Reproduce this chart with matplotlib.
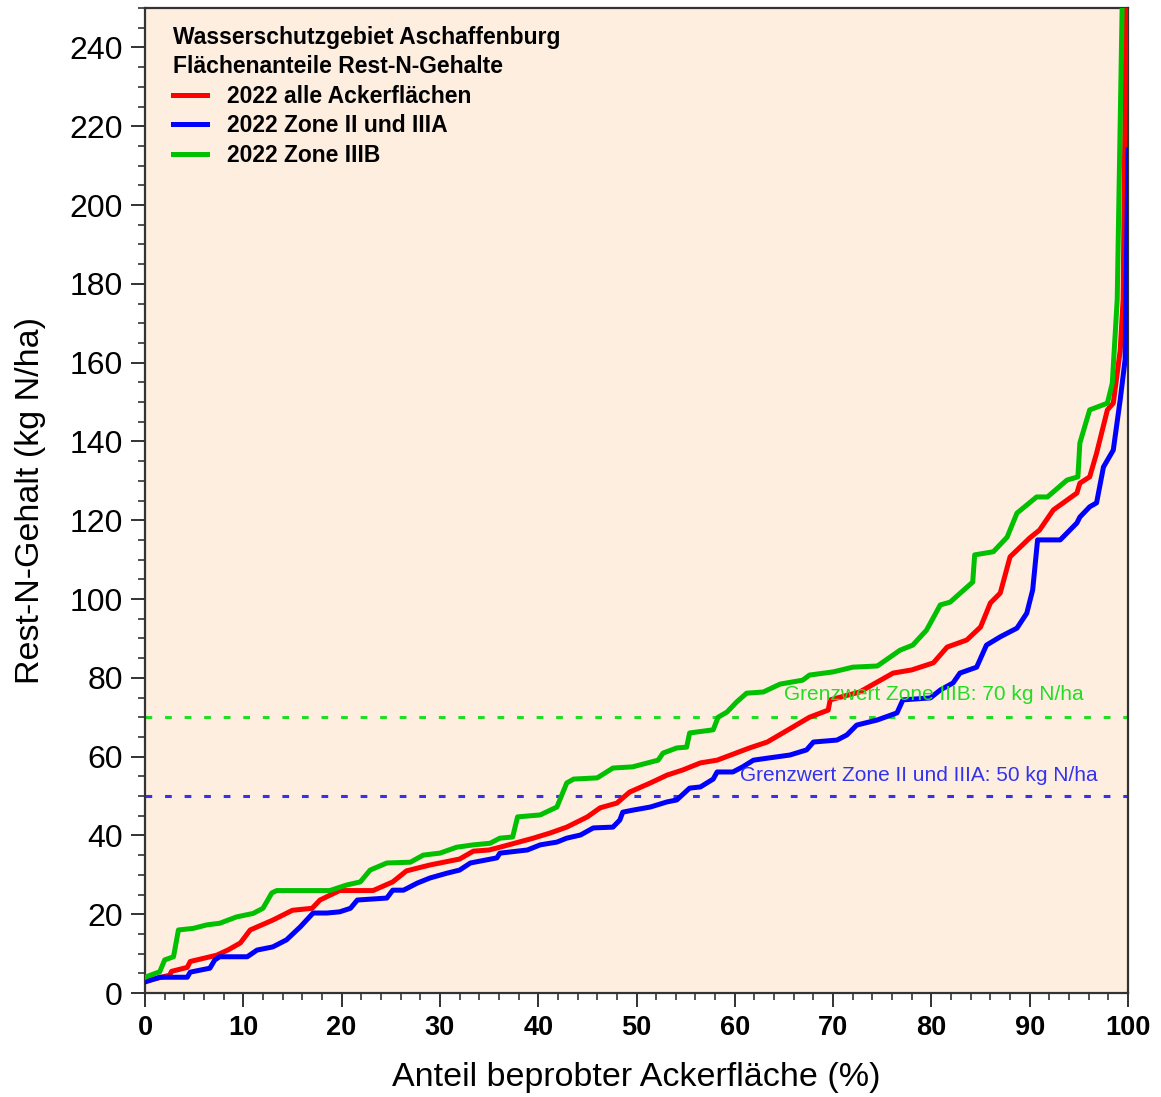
import matplotlib
matplotlib.use("Agg")
import matplotlib.pyplot as plt
from matplotlib.lines import Line2D

plt.rcParams['font.family'] = ['Liberation Sans', 'DejaVu Sans']

# Cumulative area share (%) and residual nitrogen (kg N/ha)
red_x = [0, 2.5, 2.7, 4.3, 4.6, 7.3, 8.5, 9.7, 10.7, 13, 15, 17, 17.8, 19.8, 23.2,
         25.2, 26.6, 29, 32, 33.4, 35, 36.1, 39.5, 41.2, 42.9, 45, 46.3, 48, 49.3,
         51.4, 53.1, 54.7, 56.5, 58.2, 59.8, 61.5, 63.3, 65.9, 67.6, 69.5, 69.7,
         72.7, 76.1, 78, 80.2, 81.6, 83.6, 85, 86, 87, 88, 90, 91, 92.4, 94.8,
         95.1, 96.1, 96.8, 97.9, 98.5, 99.2, 99.5, 99.8]
red_y = [3, 4.5, 5.5, 6.5, 8, 9.6, 11, 12.7, 16, 18.5, 21, 21.5, 23.6, 26, 26,
         28.2, 31, 32.5, 34, 36, 36.3, 37, 39.3, 40.6, 42.1, 44.7, 47, 48.2, 51,
         53.3, 55.3, 56.6, 58.4, 59.1, 60.6, 62.2, 63.7, 67.5, 70, 71.8, 74.4,
         76.4, 81.2, 82, 83.8, 87.8, 89.6, 92.9, 99, 101.5, 110.7, 115.5, 117.5,
         122.6, 126.9, 129.4, 131, 137, 148, 149.7, 163, 176, 250]

blue_x = [0, 1.5, 4.3, 4.6, 6.6, 7.1, 7.6, 10.4, 11.4, 13, 14.4, 15.8, 17.1, 18.5,
          19.8, 20.9, 21.6, 24.6, 25.2, 26.3, 27.7, 29, 30.7, 32, 33.1, 35.8, 36.1,
          38.9, 40.2, 41.9, 42.9, 44.3, 45.6, 47.6, 48.3, 48.6, 49.6, 51.4, 53.1,
          54.1, 55.4, 56.5, 57.8, 58.2, 59.8, 60.8, 61.9, 63.3, 65.6, 67.3, 68,
          70.4, 71.4, 72.4, 74.5, 76.5, 77.1, 79.9, 80.9, 82.2, 82.9, 84.6, 85.6,
          87, 88.7, 89.7, 90.3, 90.8, 93.1, 94.8, 95.1, 96.1, 96.8, 97.5, 98.5,
          99.2, 99.7, 100]
blue_y = [2.8, 4, 4, 5.3, 6.3, 8.4, 9.2, 9.2, 10.9, 11.7, 13.5, 16.8, 20.3, 20.3,
          20.6, 21.5, 23.6, 24.1, 26.1, 26.1, 27.9, 29.2, 30.4, 31.2, 33, 34.3,
          35.5, 36.3, 37.6, 38.3, 39.3, 40.1, 41.9, 42.1, 43.9, 45.9, 46.4, 47.2,
          48.5, 49, 52, 52.3, 54.3, 56.1, 56.1, 57.4, 59.1, 59.6, 60.4, 61.7, 63.7,
          64.2, 65.5, 68, 69.3, 71.1, 74.4, 74.9, 76.9, 78.7, 81.2, 82.7, 88.3,
          90.4, 92.6, 96.4, 102.3, 115, 115, 119.3, 120.8, 123.4, 124.4, 133.5,
          137.8, 150.5, 160.7, 214]

green_x = [0, 1.5, 2, 2.9, 3.4, 4.9, 6.3, 7.6, 9.3, 11, 12, 12.9, 13.4, 18.8, 20.5,
           21.9, 22.9, 24.6, 27, 28.3, 30, 31.7, 33.4, 35.1, 36.1, 37.4, 37.9, 40.2,
           41.9, 42.9, 43.6, 46, 47.6, 49.6, 52.2, 52.7, 54.1, 55.1, 55.4, 57.8,
           58.3, 59.2, 60.2, 61.2, 62.9, 64.6, 66.9, 67.6, 70, 72, 74.5, 76.8,
           78.1, 79.5, 80.9, 81.9, 84.2, 84.4, 86.3, 87.7, 88.7, 90.7, 91.8, 93.8,
           94.9, 95.1, 96.1, 97.9, 98.4, 98.9, 99.4]
green_y = [4, 5.4, 8.4, 9.2, 16, 16.4, 17.3, 17.7, 19.3, 20.2, 21.5, 25.4, 26, 26,
           27.4, 28.2, 31.2, 33, 33.2, 35, 35.5, 37, 37.6, 38, 39.3, 39.6, 44.7,
           45.2, 47.2, 53.3, 54.3, 54.6, 57.1, 57.4, 59.1, 60.9, 62.2, 62.4, 66,
           66.8, 70, 71.3, 73.9, 76.1, 76.4, 78.4, 79.4, 80.7, 81.5, 82.7, 83,
           87, 88.3, 92.1, 98.5, 99.2, 104.3, 111.2, 112, 115.7, 121.8, 125.9,
           125.9, 130.2, 131, 139.6, 148, 149.7, 154.8, 176, 250]

series_labels = ["2022 alle Ackerflächen", "2022 Zone II und IIIA", "2022 Zone IIIB"]
series_colors = ["#ff0000", "#0000ff", "#00c000"]

limit_values = [70, 50]
limit_labels = ["Grenzwert Zone IIIB: 70 kg N/ha", "Grenzwert Zone II und IIIA: 50 kg N/ha"]
limit_colors = ["#22dd22", "#3333ee"]

legend_title = "Wasserschutzgebiet Aschaffenburg\nFlächenanteile Rest-N-Gehalte"

fig = plt.figure(figsize=(11.61, 10.97), dpi=100)
ax = fig.add_axes([0.1249, 0.0948, 0.9716 - 0.1249, 0.9927 - 0.0948])
ax.set_facecolor("#feeee0")

# limit lines with labels
ax.axhline(limit_values[0], color=limit_colors[0], lw=2.2, ls=(0, (2.2, 4.2)), zorder=2)
ax.axhline(limit_values[1], color=limit_colors[1], lw=2.2, ls=(0, (2.2, 4.2)), zorder=2)
ax.text(65.0, limit_values[0] + 5.8, limit_labels[0], color=limit_colors[0],
        fontsize=15, ha="left", va="center", zorder=5)
ax.text(60.5, limit_values[1] + 5.3, limit_labels[1], color=limit_colors[1],
        fontsize=15, ha="left", va="center", zorder=5)

lw = 3.6
ax.plot(red_x, red_y, color=series_colors[0], lw=lw, zorder=3, label=series_labels[0])
ax.plot(blue_x, blue_y, color=series_colors[1], lw=lw, zorder=3.1, label=series_labels[1])
ax.plot(green_x, green_y, color=series_colors[2], lw=lw, zorder=3.2, label=series_labels[2])

ax.set_xlim(0, 100)
ax.set_ylim(0, 250)

ax.set_xticks(range(0, 101, 10))
ax.set_xticks(range(0, 101, 2), minor=True)
ax.set_yticks(range(0, 241, 20))
ax.set_yticks(range(0, 251, 5), minor=True)
ax.tick_params(axis="both", which="major", direction="out", length=10, width=1.3, color="#222222")
ax.tick_params(axis="both", which="minor", direction="out", length=5, width=1.1, color="#222222")
ax.tick_params(axis="y", labelsize=23, pad=6)
ax.tick_params(axis="x", labelsize=19.5, pad=6)
for lab in ax.get_xticklabels():
    lab.set_fontweight("bold")

for side in ["left", "bottom", "top", "right"]:
    ax.spines[side].set_color("#333333")
    ax.spines[side].set_linewidth(1.6)

ax.set_xlabel("Anteil beprobter Ackerfläche (%)", fontsize=24.5, labelpad=15)
ax.set_ylabel("Rest-N-Gehalt (kg N/ha)", fontsize=24.5, labelpad=17)

handles = [Line2D([], [], color=c, lw=3.6) for c in series_colors]
leg = ax.legend(handles, series_labels, loc="upper left", bbox_to_anchor=(0.019, 0.991),
                frameon=False, title=legend_title, alignment="left",
                prop={"weight": "bold", "size": 16.5}, handlelength=1.5,
                handletextpad=0.85, labelspacing=0.28, borderaxespad=0.0)
leg.get_title().set_fontweight("bold")
leg.get_title().set_fontsize(16.5)
leg.get_title().set_linespacing(1.35)

fig.savefig("out.png", dpi=100, facecolor="white")
